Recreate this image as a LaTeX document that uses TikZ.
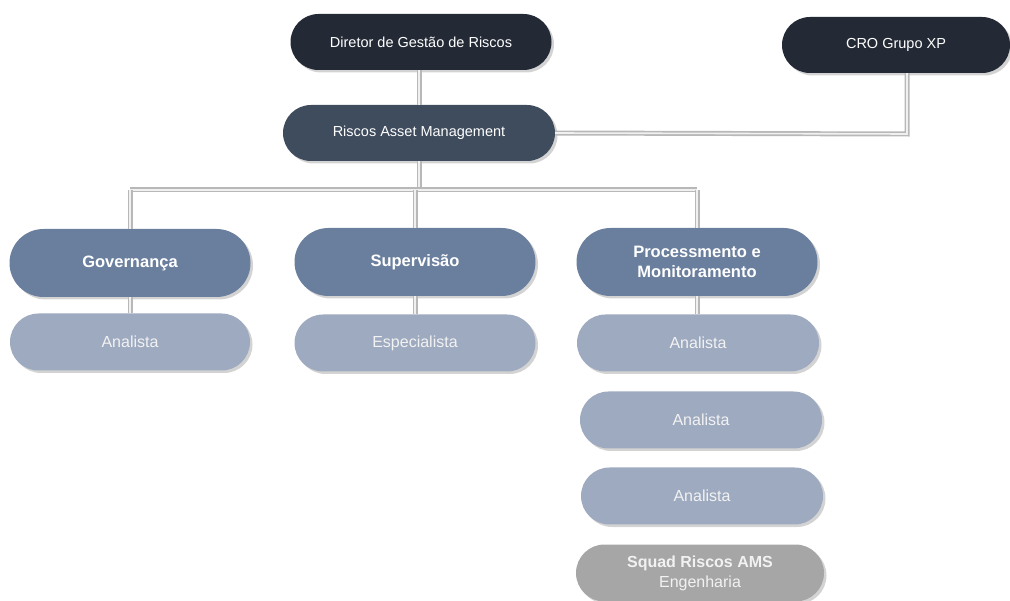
\documentclass[tikz,border=0pt]{standalone}
\usepackage{fontspec}
\setmainfont{Liberation Sans}
\usetikzlibrary{shadows,shapes.misc}
\definecolor{cdark}{HTML}{232A36}
\definecolor{cram}{HTML}{3E4C5E}
\definecolor{cmid}{HTML}{6A7F9E}
\definecolor{clight}{HTML}{9EAAC0}
\definecolor{cgray}{HTML}{A6A6A6}
\definecolor{ctxt}{HTML}{F2F2F2}
\tikzset{
  pill/.style={rounded rectangle, inner sep=0pt, align=center,
    text=white, font=\fontsize{14.5}{17}\selectfont,
    drop shadow={shadow xshift=2.5pt, shadow yshift=-2.5pt, opacity=0.35}},
  topbox/.style={pill, fill=cdark, minimum height=56pt},
  rambox/.style={pill, fill=cram, minimum height=56pt},
  headbox/.style={pill, fill=cmid, minimum height=68pt, minimum width=241pt, font=\bfseries\fontsize{16.5}{20}\selectfont},
  rolebox/.style={pill, fill=clight, minimum height=57pt, minimum width=242pt, text=ctxt, font=\fontsize{16}{19}\selectfont},
  squadbox/.style={pill, fill=cgray, minimum height=57pt, minimum width=248pt, text=ctxt, font=\fontsize{16}{20}\selectfont},
  conn/.style={draw=white!88!gray, line width=1.6pt, preaction={draw=black!28, line width=5pt}},
}
\begin{document}
\begin{tikzpicture}[x=1pt, y=-1pt]
\useasboundingbox (0,0) rectangle (1010,601);
\coordinate (bl) at (130,190);
\coordinate (br) at (697,190);
\coordinate (crocorner) at (907,134);

\node[topbox, minimum width=261pt] (dir) at (421,42) {Diretor de Gestão de Riscos};
\node[topbox, minimum width=228pt] (cro) at (896,45) {CRO Grupo XP};
\node[rambox, minimum width=272pt] (ram) at (419,133) {Riscos Asset Management};

\draw[conn] (ram.north) -- (ram.north |- dir.south);
\draw[conn] (ram.east) -- (crocorner) -- (crocorner |- cro.south);
\draw[conn] (ram.south) -- (ram.south |- bl);
\draw[conn] (bl) -- (br);

\node[headbox] (gov) at (130,263) {Governança};
\node[headbox] (sup) at (415,262) {Supervisão};
\node[headbox] (proc) at (697,262) {Processmento e\\Monitoramento};

\draw[conn] (bl) -- (gov.north);
\draw[conn] (sup.north |- bl) -- (sup.north);
\draw[conn] (br) -- (proc.north);

\node[rolebox, minimum width=240pt] (an1) at (130,342) {Analista};
\node[rolebox, minimum width=241pt] (esp) at (415,343) {Especialista};
\node[rolebox] (an2) at (698,343) {Analista};
\node[rolebox] (an3) at (701,420) {Analista};
\node[rolebox] (an4) at (702,496) {Analista};
\node[squadbox] (squad) at (700,573) {\textbf{Squad Riscos AMS}\\Engenharia};

\draw[conn] (gov.south) -- (an1.north);
\draw[conn] (sup.south) -- (esp.north);
\draw[conn] (proc.south) -- (an2.north -| proc.south);
\end{tikzpicture}
\end{document}
